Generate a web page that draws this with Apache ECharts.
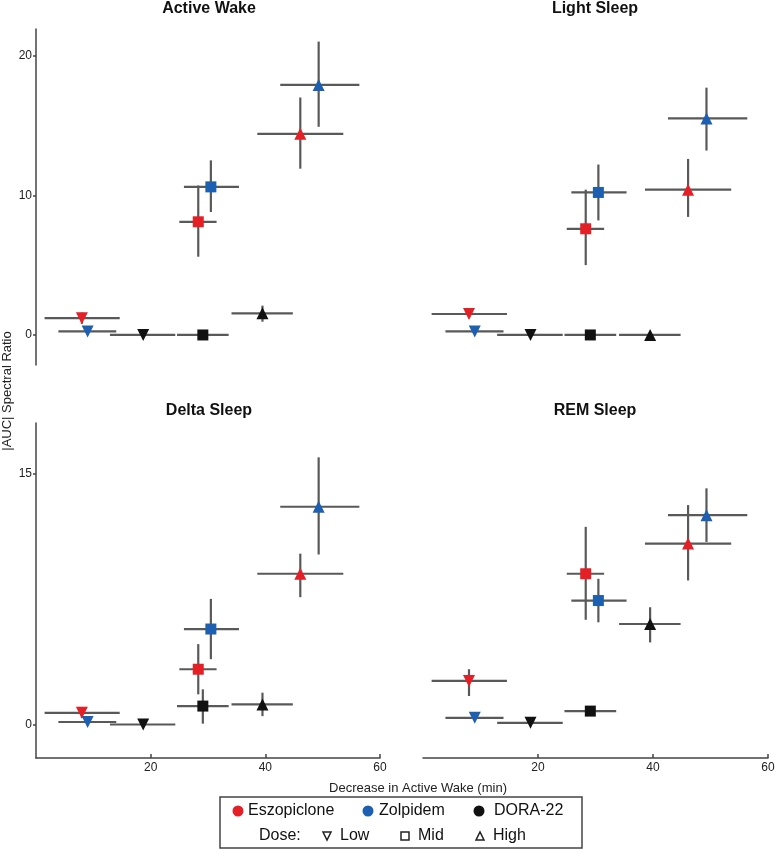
<!DOCTYPE html>
<html>
<head>
<meta charset="utf-8">
<script src="https://cdn.jsdelivr.net/npm/echarts@6/dist/echarts.min.js"></script>
<style>html,body{margin:0;padding:0;background:#fff}#c{width:779px;height:854px}</style>
</head>
<body>
<div id="c"></div>
<script>
// ---------- DATA ----------
const panels = ['Active Wake', 'Light Sleep', 'Delta Sleep', 'REM Sleep'];
const drugs = ['Eszopiclone', 'Zolpidem', 'DORA-22'];
const doses = ['Low', 'Mid', 'High'];

// Decrease in Active Wake (min): mean and error bar limits, per dose (Low, Mid, High)
const eszoX   = [8.0, 28.3, 46.1];
const eszoXLo = [1.5, 25.0, 38.6];
const eszoXHi = [14.6, 31.5, 53.6];
const zolpX   = [9.0, 30.5, 49.3];
const zolpXLo = [3.9, 25.8, 42.6];
const zolpXHi = [14.0, 35.4, 56.4];
const doraX   = [18.7, 29.1, 39.5];
const doraXLo = [12.9, 24.6, 34.1];
const doraXHi = [24.3, 33.6, 44.8];

// |AUC| Spectral Ratio per panel: value, lower, upper
const wakeEszoY = [1.2, 8.1, 14.4],  wakeEszoLo = [0.8, 5.6, 11.9],  wakeEszoHi = [1.6, 10.7, 17.0];
const wakeZolpY = [0.25, 10.6, 17.9], wakeZolpLo = [0.1, 8.8, 14.9], wakeZolpHi = [0.4, 12.5, 21.0];
const wakeDoraY = [0, 0, 1.55],      wakeDoraLo = [-0.1, -0.1, 0.95], wakeDoraHi = [0.1, 0.1, 2.1];

const lightEszoY = [1.5, 7.6, 10.4],  lightEszoLo = [1.2, 5.0, 8.45], lightEszoHi = [1.9, 10.4, 12.6];
const lightZolpY = [0.25, 10.2, 15.5], lightZolpLo = [0.1, 8.2, 13.2], lightZolpHi = [0.4, 12.2, 17.7];
const lightDoraY = [0, 0, 0],          lightDoraLo = [-0.1, -0.1, -0.1], lightDoraHi = [0.1, 0.1, 0.1];

const deltaEszoY = [0.7, 3.3, 9.0],   deltaEszoLo = [0.4, 1.8, 7.6],   deltaEszoHi = [1.0, 4.8, 10.2];
const deltaZolpY = [0.15, 5.7, 13.0], deltaZolpLo = [0.05, 3.9, 10.15], deltaZolpHi = [0.3, 7.5, 15.95];
const deltaDoraY = [0, 1.1, 1.2],     deltaDoraLo = [-0.05, 0.05, 0.5], deltaDoraHi = [0.05, 2.1, 1.9];

const remEszoY = [2.6, 9.0, 10.8],  remEszoLo = [1.7, 6.25, 8.6], remEszoHi = [3.3, 11.8, 13.1];
const remZolpY = [0.4, 7.4, 12.5],  remZolpLo = [0.3, 6.1, 10.9], remZolpHi = [0.5, 8.7, 14.1];
const remDoraY = [0.1, 0.8, 6.0],   remDoraLo = [0.05, 0.7, 4.9], remDoraHi = [0.15, 0.9, 7.0];

const xTicks = [20, 40, 60];
const yTicksTop = [0, 10, 20];
const yTicksBottom = [0, 15];

// ---------- BUILD ----------
const colors = ['#e41f26', '#1d5fb0', '#111111'];
const xSets = [[eszoX, eszoXLo, eszoXHi], [zolpX, zolpXLo, zolpXHi], [doraX, doraXLo, doraXHi]];
const ySets = [
  [[wakeEszoY, wakeEszoLo, wakeEszoHi], [wakeZolpY, wakeZolpLo, wakeZolpHi], [wakeDoraY, wakeDoraLo, wakeDoraHi]],
  [[lightEszoY, lightEszoLo, lightEszoHi], [lightZolpY, lightZolpLo, lightZolpHi], [lightDoraY, lightDoraLo, lightDoraHi]],
  [[deltaEszoY, deltaEszoLo, deltaEszoHi], [deltaZolpY, deltaZolpLo, deltaZolpHi], [deltaDoraY, deltaDoraLo, deltaDoraHi]],
  [[remEszoY, remEszoLo, remEszoHi], [remZolpY, remZolpLo, remZolpHi], [remDoraY, remDoraLo, remDoraHi]]
];
const doseSymbol = { Low: ['triangle', 180, 12], Mid: ['rect', 0, 11], High: ['triangle', 0, 12] };

const grids = [
  { left: 36, top: 29, width: 344, height: 336 },
  { left: 423, top: 29, width: 345, height: 336 },
  { left: 36, top: 423, width: 344, height: 335 },
  { left: 423, top: 423, width: 345, height: 335 }
];
const titleCenters = [[209, 1], [595, 1], [209, 403], [595, 403]];

const axisLineStyle = { color: '#444', width: 1.5 };
const labelStyle = { color: '#222', fontSize: 12, fontFamily: 'Liberation Sans, Arial, sans-serif' };

const xAxes = grids.map((g, i) => {
  const bottom = i >= 2;
  return {
    type: 'value', gridIndex: i, min: 0, max: 60, show: bottom,
    axisLine: { show: true, onZero: false, lineStyle: axisLineStyle },
    axisTick: { show: true, inside: true, length: 4, customValues: xTicks, lineStyle: axisLineStyle },
    axisLabel: Object.assign({ customValues: xTicks, margin: 4 }, labelStyle),
    splitLine: { show: false }
  };
});
const yAxes = grids.map((g, i) => {
  const top = i < 2;
  const left = i % 2 === 0;
  const ticks = top ? yTicksTop : yTicksBottom;
  return {
    type: 'value', gridIndex: i,
    min: top ? -2.15 : -2, max: top ? 21.9 : 18, show: left,
    axisLine: { show: true, onZero: false, lineStyle: axisLineStyle },
    axisTick: { show: true, inside: false, length: 3, customValues: ticks, lineStyle: axisLineStyle },
    axisLabel: Object.assign({ customValues: ticks, margin: 4 }, labelStyle),
    splitLine: { show: false }
  };
});

const series = [];
panels.forEach((p, pi) => {
  drugs.forEach((d, di) => {
    const [xs, xlo, xhi] = xSets[di];
    const [ys, ylo, yhi] = ySets[pi][di];
    const errData = doses.map((_, k) => [xs[k], ys[k], xlo[k], xhi[k], ylo[k], yhi[k]]);
    series.push({
      type: 'custom', name: d + ' error', xAxisIndex: pi, yAxisIndex: pi, z: 2,
      silent: true,
      encode: { x: [0, 2, 3], y: [1, 4, 5] },
      data: errData,
      renderItem: function (params, api) {
        const x = api.value(0), y = api.value(1);
        const a = api.coord([api.value(2), y]), b = api.coord([api.value(3), y]);
        const c = api.coord([x, api.value(4)]), e = api.coord([x, api.value(5)]);
        const st = { stroke: '#595959', lineWidth: 2.2 };
        return {
          type: 'group', children: [
            { type: 'line', shape: { x1: a[0], y1: a[1], x2: b[0], y2: b[1] }, style: st },
            { type: 'line', shape: { x1: c[0], y1: c[1], x2: e[0], y2: e[1] }, style: st }
          ]
        };
      }
    });
    series.push({
      type: 'scatter', name: d, xAxisIndex: pi, yAxisIndex: pi, z: 3,
      itemStyle: { color: colors[di], opacity: 1 },
      data: doses.map((ds, k) => ({
        value: [xs[k], ys[k]],
        symbol: doseSymbol[ds][0], symbolRotate: doseSymbol[ds][1], symbolSize: doseSymbol[ds][2]
      }))
    });
  });
});

const legendFont = '16px "Liberation Sans", Arial, sans-serif';
const graphic = [
  { type: 'text', x: 7, y: 391, rotation: Math.PI / 2,
    style: { text: '|AUC| Spectral Ratio', font: '13px "Liberation Sans", Arial, sans-serif', fill: '#222', textAlign: 'center', textVerticalAlign: 'middle' } },
  { type: 'text', x: 418, y: 788,
    style: { text: 'Decrease in Active Wake (min)', font: '13px "Liberation Sans", Arial, sans-serif', fill: '#222', textAlign: 'center', textVerticalAlign: 'middle' } },
  { type: 'rect', shape: { x: 220, y: 797, width: 362, height: 51 }, style: { fill: '#fff', stroke: '#444', lineWidth: 1.5 }, z: 10 },
  { type: 'circle', shape: { cx: 238, cy: 811, r: 5.5 }, style: { fill: colors[0] }, z: 11 },
  { type: 'text', x: 248, y: 811, style: { text: drugs[0], font: legendFont, fill: '#111', textVerticalAlign: 'middle' }, z: 11 },
  { type: 'circle', shape: { cx: 368, cy: 811, r: 5.5 }, style: { fill: colors[1] }, z: 11 },
  { type: 'text', x: 379, y: 811, style: { text: drugs[1], font: legendFont, fill: '#111', textVerticalAlign: 'middle' }, z: 11 },
  { type: 'circle', shape: { cx: 479, cy: 811, r: 5.5 }, style: { fill: colors[2] }, z: 11 },
  { type: 'text', x: 494, y: 811, style: { text: drugs[2], font: legendFont, fill: '#111', textVerticalAlign: 'middle' }, z: 11 },
  { type: 'text', x: 259, y: 836, style: { text: 'Dose:', font: legendFont, fill: '#111', textVerticalAlign: 'middle' }, z: 11 },
  { type: 'polygon', shape: { points: [[323, 832], [331, 832], [327, 840]] }, style: { fill: 'none', stroke: '#222', lineWidth: 1.5 }, z: 11 },
  { type: 'text', x: 340, y: 836, style: { text: doses[0], font: legendFont, fill: '#111', textVerticalAlign: 'middle' }, z: 11 },
  { type: 'rect', shape: { x: 401, y: 832, width: 8, height: 8 }, style: { fill: 'none', stroke: '#222', lineWidth: 1.5 }, z: 11 },
  { type: 'text', x: 418, y: 836, style: { text: doses[1], font: legendFont, fill: '#111', textVerticalAlign: 'middle' }, z: 11 },
  { type: 'polygon', shape: { points: [[476, 840], [484, 840], [480, 832]] }, style: { fill: 'none', stroke: '#222', lineWidth: 1.5 }, z: 11 },
  { type: 'text', x: 493, y: 836, style: { text: doses[2], font: legendFont, fill: '#111', textVerticalAlign: 'middle' }, z: 11 }
];

const option = {
  backgroundColor: '#fff',
  animation: false,
  title: panels.map((p, i) => ({
    text: p, left: titleCenters[i][0], top: titleCenters[i][1], textAlign: 'center', padding: 0,
    textStyle: { fontSize: 16, fontWeight: 'bold', color: '#111', fontFamily: 'Liberation Sans, Arial, sans-serif' }
  })),
  grid: grids,
  xAxis: xAxes,
  yAxis: yAxes,
  series: series,
  graphic: graphic
};
const chart = echarts.init(document.getElementById('c'), null, { renderer: 'canvas' });
chart.setOption(option);
</script>
</body>
</html>
